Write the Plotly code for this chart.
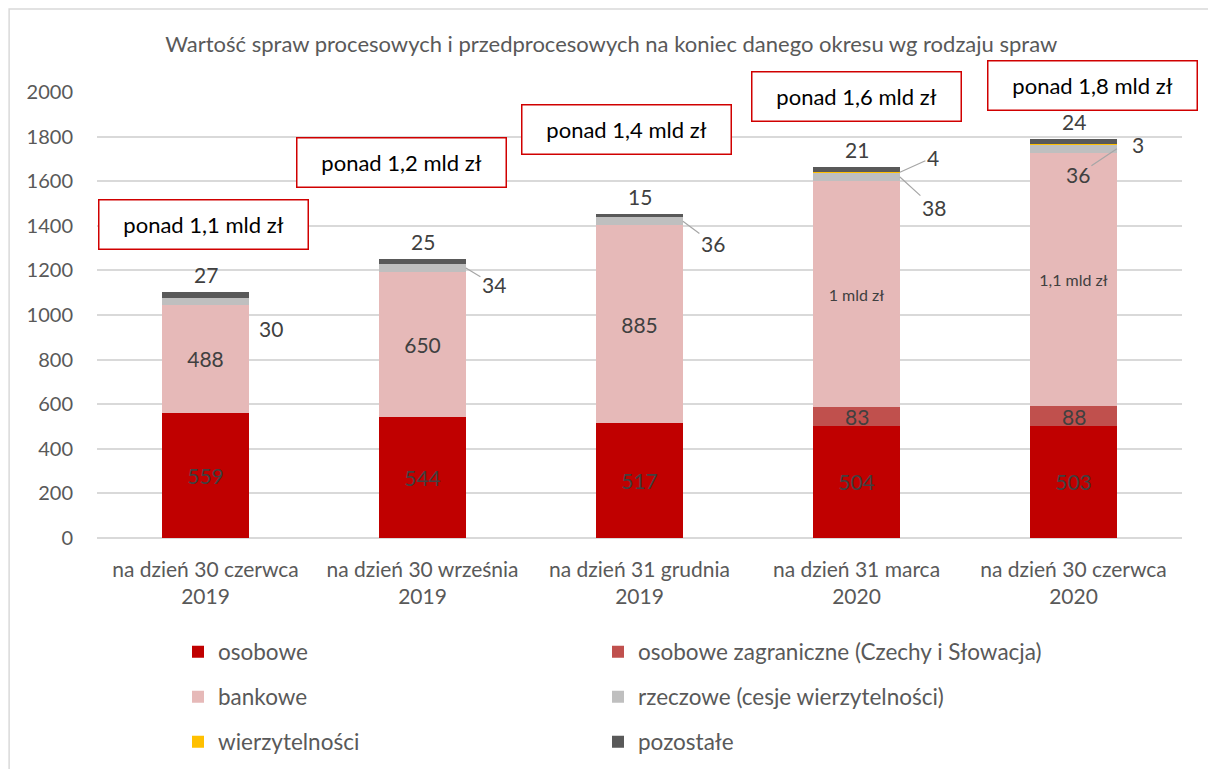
import plotly.graph_objects as go
import numpy as np

# ---- data ----
categories = ["na dzień 30 czerwca<br>2019", "na dzień 30 września<br>2019",
              "na dzień 31 grudnia<br>2019", "na dzień 31 marca<br>2020",
              "na dzień 30 czerwca<br>2020"]
osobowe = [559, 544, 517, 504, 503]
zagraniczne = [0, 0, 0, 83, 88]
bankowe = [488, 650, 885, 1013, 1137]
rzeczowe = [30, 34, 36, 38, 36]
wierzytelnosci = [0, 0, 0, 4, 3]
pozostale = [27, 25, 15, 21, 24]
bankowe_labels = ["488", "650", "885", "1 mld zł", "1,1 mld zł"]
box_labels = ["ponad 1,1 mld zł", "ponad 1,2 mld zł", "ponad 1,4 mld zł",
              "ponad 1,6 mld zł", "ponad 1,8 mld zł"]

title = "Wartość spraw procesowych i przedprocesowych na koniec danego okresu wg rodzaju spraw"

FONT = "Lato"
GREY = "#595959"
LBL = "#404040"
x = list(range(len(categories)))

names = ["osobowe", "osobowe zagraniczne (Czechy i Słowacja)", "bankowe",
         "rzeczowe (cesje wierzytelności)", "wierzytelności", "pozostałe"]
series = [osobowe, zagraniczne, bankowe, rzeczowe, wierzytelnosci, pozostale]
colors = ["#C00000", "#C0504D", "#E6B9B8", "#BFBFBF", "#FFC000", "#595959"]
legends = ["legend", "legend2", "legend3", "legend4", "legend5", "legend6"]

fig = go.Figure()
for i, (nm, vals, col, lg) in enumerate(zip(names, series, colors, legends)):
    kw = {}
    if nm == "osobowe":
        kw = dict(text=[str(v) for v in vals], textposition="inside",
                  insidetextanchor="middle",
                  textfont=dict(size=21, color=LBL, family=FONT))
    elif nm == "bankowe":
        kw = dict(text=bankowe_labels, textposition="inside",
                  insidetextanchor="middle",
                  textfont=dict(size=[21, 21, 21, 16, 16], color=LBL, family=FONT))
    else:
        kw = dict(textposition="none")
    fig.add_trace(go.Bar(x=x, y=vals, name=nm, marker=dict(color=col, line=dict(width=0)),
                         width=0.4, legend=lg, **kw))

cum = np.cumsum(np.array(series), axis=0)
base = np.vstack([np.zeros(len(x)), cum[:-1]])
mid = base + np.array(series) / 2.0
totals = cum[-1]

ann = []
lab_font = dict(size=21, color=LBL, family=FONT)
# zagraniczne labels
for i in x:
    if zagraniczne[i] > 0:
        ann.append(dict(x=i, y=mid[1][i], text=str(zagraniczne[i]), showarrow=False,
                        font=lab_font))
# pozostale labels above bars
for i in x:
    ann.append(dict(x=i, y=totals[i], text=str(pozostale[i]), showarrow=False,
                    yanchor="bottom", yshift=3, font=lab_font))
# rzeczowe labels
rz_style = [dict(showarrow=False, xshift=65, yshift=-27),
            dict(ax=28, ay=17),
            dict(ax=30, ay=22),
            dict(ax=34, ay=31),
            dict(ax=-39, ay=26)]
for i in x:
    st = rz_style[i]
    if st.get("showarrow", True) is False:
        ann.append(dict(x=i, y=mid[3][i], text=str(rzeczowe[i]), font=lab_font, **st))
    else:
        ann.append(dict(x=i + 0.2, y=mid[3][i], text=str(rzeczowe[i]), font=lab_font,
                        showarrow=True, arrowhead=0, arrowwidth=1.2, arrowcolor="#A6A6A6",
                        axref="pixel", ayref="pixel", standoff=0, **st))
# wierzytelnosci labels
wz_style = {3: dict(ax=33, ay=-15), 4: dict(showarrow=False, xshift=64)}
for i in x:
    if wierzytelnosci[i] > 0:
        st = wz_style[i]
        if st.get("showarrow", True) is False:
            ann.append(dict(x=i, y=mid[4][i], text=str(wierzytelnosci[i]), font=lab_font, **st))
        else:
            ann.append(dict(x=i + 0.2, y=mid[4][i], text=str(wierzytelnosci[i]), font=lab_font,
                            showarrow=True, arrowhead=0, arrowwidth=1.2, arrowcolor="#A6A6A6",
                            standoff=0, **st))
# red boxes (placed in paper coordinates; y range is 0..2000)
box_pos = [(0, 1404, -2), (1, 1682, -21), (2, 1830, -13), (3, 1982, 0), (4, 2027, 19)]
for (i, yy, xs), t in zip(box_pos, box_labels):
    ann.append(dict(x=i, y=yy / 2000.0, yref="paper", xanchor="center", yanchor="middle",
                    xshift=xs, text=t, showarrow=False,
                    width=206, height=46,
                    bordercolor="#D00000", borderwidth=1.5, bgcolor="white",
                    font=dict(size=22, color="black", family=FONT)))

fig.update_layout(
    width=1208, height=769,
    margin=dict(l=97, r=26, t=92, b=231, autoexpand=False),
    paper_bgcolor="white", plot_bgcolor="white",
    barmode="stack",
    font=dict(family=FONT, color=GREY, size=20),
    title=dict(text=title, x=0.474, xref="paper", xanchor="center",
               y=1 - 44 / 769, yref="container", yanchor="middle",
               font=dict(size=22, color=GREY, family=FONT)),
    xaxis=dict(range=[-0.5, 4.5], tickvals=x, ticktext=categories, showgrid=False,
               zeroline=False, showline=False, ticks="", ticklabelstandoff=17,
               tickfont=dict(size=21, color=GREY)),
    yaxis=dict(range=[0, 2000], tickvals=list(range(0, 2001, 200)), showgrid=True,
               gridcolor="#D9D9D9", gridwidth=1.5, zeroline=True, zerolinecolor="#D9D9D9",
               zerolinewidth=1.5, showline=False, ticks="", ticklabelstandoff=23,
               tickfont=dict(size=20, color=GREY)),
    annotations=ann,
    showlegend=True,
    shapes=[dict(type="rect", xref="paper", yref="paper", x0=-0.081, x1=1.05,
                 y0=-0.7, y1=1.186, line=dict(color="#D9D9D9", width=1.5),
                 fillcolor="rgba(0,0,0,0)", layer="below")],
)
leg_common = dict(orientation="h", xanchor="left", yanchor="middle",
                  font=dict(size=22.5, color=GREY, family=FONT), bgcolor="rgba(0,0,0,0)")
col_x = [(178 - 97) / 1085, (598 - 97) / 1085]
row_y = [(538 - 652) / 446, (538 - 697) / 446, (538 - 742) / 446]
leg_layout = {}
for k, lg in enumerate(legends):
    leg_layout[lg] = dict(x=col_x[k % 2], y=row_y[k // 2], **leg_common)
fig.update_layout(**leg_layout)
fig.write_html("out.html", post_script="document.body.style.margin='0px';",
               config={"displayModeBar": False})
